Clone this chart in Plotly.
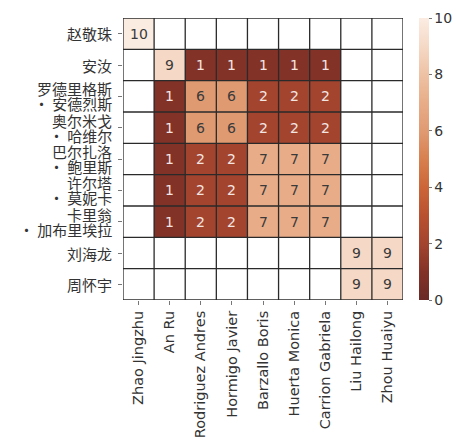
import plotly.graph_objects as go

x_labels = ["Zhao Jingzhu", "An Ru", "Rodriguez Andres", "Hormigo Javier", "Barzallo Boris",
            "Huerta Monica", "Carrion Gabriela", "Liu Hailong", "Zhou Huaiyu"]
y_labels = ["赵敬珠", "安汝", "罗德里格斯\n· 安德烈斯", "奥尔米戈\n· 哈维尔", "巴尔扎洛\n· 鲍里斯",
            "许尔塔\n· 莫妮卡", "卡里翁\n· 加布里埃拉", "刘海龙", "周怀宇"]
N = None
z = [
    [10, N, N, N, N, N, N, N, N],
    [N, 9, 1, 1, 1, 1, 1, N, N],
    [N, 1, 6, 6, 2, 2, 2, N, N],
    [N, 1, 6, 6, 2, 2, 2, N, N],
    [N, 1, 2, 2, 7, 7, 7, N, N],
    [N, 1, 2, 2, 7, 7, 7, N, N],
    [N, 1, 2, 2, 7, 7, 7, N, N],
    [N, N, N, N, N, N, N, 9, 9],
    [N, N, N, N, N, N, N, 9, 9],
]

colorscale = [
    [0.0, "#6a2a26"], [0.1, "#833227"], [0.2, "#a3442f"], [0.3, "#b9512f"],
    [0.4, "#cc6638"], [0.5, "#d8804f"], [0.6, "#e09a72"], [0.7, "#e8ad88"],
    [0.8, "#eec2a4"], [0.9, "#f5d9c6"], [1.0, "#fbece2"],
]

LATIN = "DejaVu Sans"
CJK = "Noto Sans CJK SC"

nx, ny = len(x_labels), len(y_labels)
fig = go.Figure()
fig.add_trace(go.Heatmap(
    z=z, x=list(range(nx)), y=list(range(ny)), zmin=0, zmax=10,
    colorscale=colorscale, hoverongaps=False,
    colorbar=dict(thickness=10, len=1, lenmode="fraction", x=1.057, xanchor="left",
                  xpad=0, ypad=0,
                  y=0.5, yanchor="middle", outlinewidth=0,
                  tickvals=[0, 2, 4, 6, 8, 10], ticks="outside", ticklen=3,
                  tickcolor="#777", tickfont=dict(size=14, color="#333", family=LATIN)),
))

annotations = []
for i in range(ny):
    for j in range(nx):
        v = z[i][j]
        if v is None:
            continue
        col = "#f3e6e2" if v <= 3 else "#3a3a3a"
        annotations.append(dict(x=j, y=i, text=str(v), showarrow=False,
                                font=dict(size=14, color=col, family=LATIN)))

for i, lab in enumerate(y_labels):
    lines = lab.split("\n")
    n = len(lines)
    for k, line in enumerate(lines):
        shift = (n - 1) / 2 * 15 - k * 15
        annotations.append(dict(xref="paper", yref="y", x=0, y=i, xanchor="right",
                                yanchor="middle", xshift=-9, yshift=shift, text=line,
                                showarrow=False,
                                font=dict(size=15, color="#333", family=CJK)))

shapes = []
for k in range(nx + 1):
    shapes.append(dict(type="line", xref="x", yref="y", x0=k - 0.5, x1=k - 0.5,
                       y0=-0.5, y1=ny - 0.5, line=dict(color="#2a2a2a", width=1.3), layer="above"))
for k in range(ny + 1):
    shapes.append(dict(type="line", xref="x", yref="y", x0=-0.5, x1=nx - 0.5,
                       y0=k - 0.5, y1=k - 0.5, line=dict(color="#2a2a2a", width=1.3), layer="above"))

fig.update_layout(
    width=456, height=446,
    margin=dict(l=123, r=53, t=18, b=146, autoexpand=False),
    paper_bgcolor="white", plot_bgcolor="white",
    annotations=annotations, shapes=shapes,
    xaxis=dict(tickvals=list(range(nx)), ticktext=x_labels, tickangle=-90,
               range=[-0.5, nx - 0.5], showgrid=False, zeroline=False,
               ticks="outside", ticklen=4, tickcolor="#777",
               tickfont=dict(size=14.5, color="#333", family=LATIN)),
    yaxis=dict(tickvals=list(range(ny)), showticklabels=False,
               range=[ny - 0.5, -0.5], showgrid=False, zeroline=False,
               ticks="outside", ticklen=4, tickcolor="#777"),
)

fig.write_html("out.html")
